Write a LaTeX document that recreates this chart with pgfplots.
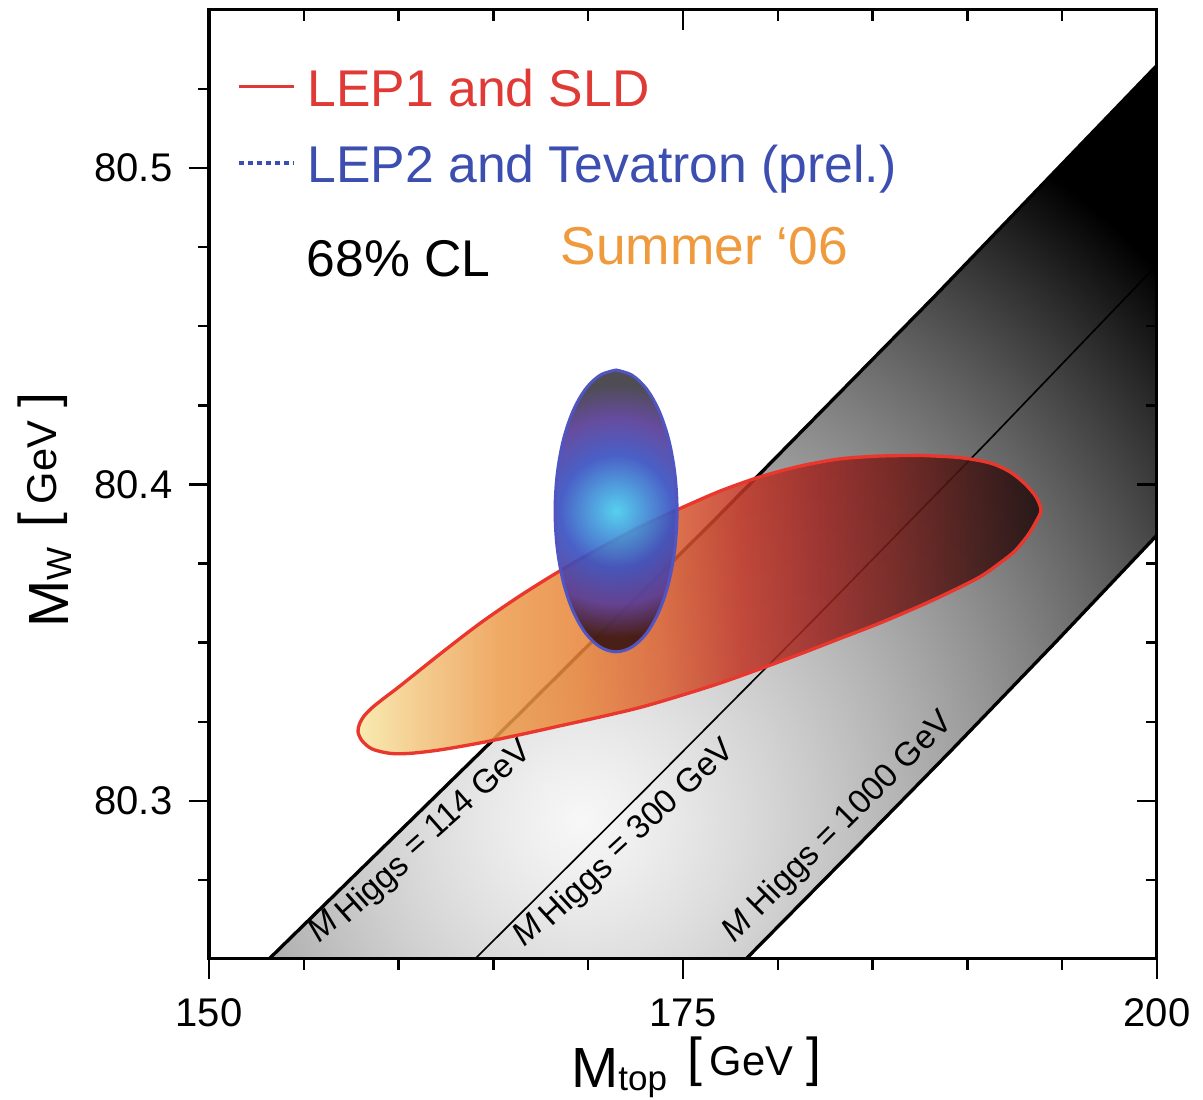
\documentclass[border=0pt]{standalone}
\usepackage{pgfplots}
\pgfplotsset{compat=1.18}
\usepackage{fontspec}
\setmainfont{Liberation Sans}

\definecolor{legred}{HTML}{E03A36}
\definecolor{legblue}{HTML}{3C4FB0}
\definecolor{legorange}{HTML}{EF9A3C}
\definecolor{ellred}{HTML}{EA372D}
\definecolor{ellblue}{HTML}{5055C2}
\definecolor{rA}{HTML}{F8E8A4}
\definecolor{rB}{HTML}{F2C47E}
\definecolor{rC}{HTML}{EC9C4C}
\definecolor{rD}{HTML}{E8843A}
\definecolor{rE}{HTML}{DC6232}
\definecolor{rF}{HTML}{C23626}
\definecolor{rG}{HTML}{9C2420}
\definecolor{rH}{HTML}{701C18}
\definecolor{rI}{HTML}{3E1412}
\definecolor{rJ}{HTML}{1E0C0C}

\pgfdeclarehorizontalshading{redell}{100bp}{color(0bp)=(rA); color(25bp)=(rA); color(29.5bp)=(rB); color(35.4bp)=(rC); color(41.3bp)=(rD); color(47.1bp)=(rE); color(53bp)=(rF); color(58.8bp)=(rG); color(64.7bp)=(rH); color(70.5bp)=(rI); color(75bp)=(rJ); color(100bp)=(rJ)}
\pgfdeclarefunctionalshading{bandshade}{\pgfpointorigin}{\pgfpoint{100bp}{100bp}}{}{
  32.73 sub dup mul exch 42.57 sub dup mul add sqrt
  dup dup mul -0.00026 mul exch -0.010 mul add 0.97 add
  dup 0 lt { pop 0 } if dup dup
}
\pgfdeclarefunctionalshading{blueell}{\pgfpointorigin}{\pgfpoint{100bp}{100bp}}{}{
  50 sub 25 div dup 0 lt { 1 } { 0 } ifelse 3 1 roll
  dup mul exch 50 sub 25 div 0.4326 mul dup mul add sqrt
  dup 0.40 lt
  { 0.40 div dup dup -0.05 mul 0.28 add 3 1 roll -0.48 mul 0.80 add exch -0.17 mul 0.93 add 4 -1 roll pop }
  { dup 0.66 lt
    { 0.40 sub 0.26 div dup dup 0.12 mul 0.23 add 3 1 roll -0.08 mul 0.32 add exch -0.17 mul 0.76 add 4 -1 roll pop }
    { 0.66 sub 0.24 div dup 1 gt { pop 1 } if
      dup 2 index -0.01 mul -0.10 add mul 0.35 add exch
      dup 3 index -0.15 mul -0.00 add mul 0.24 add exch
      3 index -0.20 mul -0.32 add mul 0.59 add
      4 -1 roll pop }
    ifelse }
  ifelse
}

\newcommand{\biglabel}[1]{{\fontsize{17}{17}\selectfont M}\raisebox{-0.9pt}{\fontsize{10.5}{10.5}\selectfont #1}\hspace{6pt}\raisebox{3.5pt}{{\fontsize{16}{16}\selectfont [}\hspace{2.4pt}{\fontsize{12.5}{12.5}\selectfont GeV}\hspace{4pt}{\fontsize{16}{16}\selectfont ]}}}

\begin{document}
\begin{tikzpicture}
\begin{axis}[
  name=main,
  scale only axis, width=284.4pt, height=284.7pt,
  xmin=150, xmax=200, ymin=80.25, ymax=80.55,
  xtick={150,175,200}, xticklabels={150,175,200},
  minor xtick={155,160,165,170,180,185,190,195},
  ytick={80.3,80.4,80.5}, yticklabels={80.3,80.4,80.5},
  minor ytick={80.275,80.325,80.35,80.375,80.425,80.45,80.475,80.525},
  xtick pos=left, ytick pos=left, tick align=outside,
  major tick length=6pt, minor tick length=3.3pt,
  every tick/.style={black, line width=0.7pt},
  axis line style={line width=0.9pt},
  tick label style={font=\fontsize{12}{12}\selectfont, /pgf/number format/assume math mode=true},
  xticklabel style={inner sep=0pt, yshift=-5.7pt},
  yticklabel style={inner sep=0pt, xshift=-4.8pt},
  xlabel={\biglabel{top}},
  ylabel={\biglabel{W}},
  x label style={at={(axis description cs:0.514,-0.135)}, anchor=base, inner sep=0pt},
  y label style={at={(axis description cs:-0.1487,0.473)}, anchor=base, inner sep=0pt, rotate=0},
]
% Higgs band
\addplot[draw=none, shade, shading=bandshade, forget plot] coordinates {
  (153.165,80.25) (164.873,80.3186) (176.582,80.3883) (188.291,80.4596) (200,80.5325)
  (200,80.3840) (194.580,80.3497) (189.161,80.3160) (183.742,80.2829) (178.323,80.25)
} -- cycle;
\addplot[black, line width=1pt, forget plot] coordinates {(153.165,80.25) (164.873,80.3186) (176.582,80.3883) (188.291,80.4596) (200,80.5325)};
\addplot[black, line width=0.5pt, forget plot] coordinates {(164.030,80.25) (173.022,80.3037) (182.015,80.3580) (191.007,80.4132) (200,80.4694)};
\addplot[black, line width=1pt, forget plot] coordinates {(178.323,80.25) (183.742,80.2829) (189.161,80.3160) (194.580,80.3497) (200,80.3840)};

\node[anchor=base west, inner sep=0pt, rotate=41.5, font=\fontsize{10}{12}\selectfont] at (axis cs:155.8,80.2548) {\textit{M}\,\raisebox{-1.3pt}{Higgs} = 114 GeV};
\node[anchor=base west, inner sep=0pt, rotate=42.6, font=\fontsize{10}{12}\selectfont] at (axis cs:166.6,80.2536) {\textit{M}\,\raisebox{-1.3pt}{Higgs} = 300 GeV};
\node[anchor=base west, inner sep=0pt, rotate=45, font=\fontsize{10}{12}\selectfont] at (axis cs:177.7,80.2548) {\textit{M} Higgs = 1000 GeV};

% LEP1 and SLD ellipse
\addplot[draw=ellred, line width=1pt, shade, shading=redell, fill opacity=0.86, draw opacity=1, smooth, tension=0.5, forget plot] coordinates {
  (187.500,80.4092) (189.610,80.4085) (191.192,80.4068) (192.247,80.4040) (193.038,80.4002)
  (193.618,80.3961) (193.882,80.3919) (193.618,80.3882) (193.197,80.3840) (192.511,80.3790)
  (191.720,80.3752) (190.665,80.3708) (189.083,80.3660) (187.500,80.3616) (185.391,80.3562)
  (183.281,80.3513) (181.171,80.3464) (179.061,80.3417) (176.952,80.3372) (174.842,80.3332)
  (172.732,80.3295) (170.623,80.3265) (168.513,80.3237) (166.403,80.3209) (164.293,80.3183)
  (162.184,80.3161) (160.601,80.3150) (159.547,80.3150) (158.597,80.3164) (158.070,80.3190)
  (157.859,80.3218) (157.938,80.3243) (158.175,80.3268) (158.597,80.3294) (159.177,80.3322)
  (160.074,80.3363) (162.184,80.3464)
  (164.293,80.3561) (166.403,80.3648) (168.513,80.3727) (170.623,80.3799) (172.732,80.3866)
  (174.842,80.3924) (176.952,80.3979) (179.061,80.4024) (181.171,80.4058) (183.281,80.4081)
  (185.391,80.4090) (187.500,80.4092)
} -- cycle;

% LEP2 and Tevatron ellipse
\addplot[draw=ellblue, line width=0.9pt, shade, shading=blueell, fill opacity=0.92, draw opacity=1, smooth, tension=0.55, forget plot] coordinates {
  (171.47,80.4362) (170.64,80.4346) (169.86,80.4302) (169.19,80.4231) (168.68,80.4139)
  (168.36,80.4031) (168.25,80.3916) (168.36,80.3801) (168.68,80.3693) (169.19,80.3601)
  (169.86,80.3530) (170.64,80.3486) (171.47,80.3471) (172.30,80.3486) (173.08,80.3530)
  (173.75,80.3601) (174.26,80.3693) (174.58,80.3801) (174.69,80.3916) (174.58,80.4031)
  (174.26,80.4139) (173.75,80.4231) (173.08,80.4302) (172.30,80.4346) (171.47,80.4362)
} -- cycle;

% legend
\draw[legred, line width=1pt] (axis cs:151.58,80.5259) -- (axis cs:154.48,80.5259);
\draw[legblue, line width=1pt, dash pattern=on 1.4pt off 1.3pt] (axis cs:151.58,80.5016) -- (axis cs:154.48,80.5016);
\node[anchor=base west, inner sep=0pt, text=legred, font=\fontsize{15.5}{18}\selectfont] at (axis cs:155.17,80.5196) {LEP1 and SLD};
\node[anchor=base west, inner sep=0pt, text=legblue, font=\fontsize{15.5}{18}\selectfont] at (axis cs:155.17,80.4956) {LEP2 and Tevatron (prel.)};
\node[anchor=base west, inner sep=0pt, text=black, font=\fontsize{15.5}{18}\selectfont] at (axis cs:155.12,80.4656) {68\% CL};
\node[anchor=base west, inner sep=0pt, text=legorange, font=\fontsize{16}{18}\selectfont] at (axis cs:168.51,80.4694) {Summer ‘06};
\end{axis}
\begin{axis}[
  scale only axis, width=284.4pt, height=284.7pt,
  xmin=150, xmax=200, ymin=80.25, ymax=80.55,
  xtick={150,175,200}, xticklabels={},
  minor xtick={155,160,165,170,180,185,190,195},
  ytick={80.3,80.4,80.5}, yticklabels={},
  minor ytick={80.275,80.325,80.35,80.375,80.425,80.45,80.475,80.525},
  xtick pos=right, ytick pos=right, tick align=inside,
  major tick length=6pt, minor tick length=3.3pt,
  every tick/.style={black, line width=0.7pt},
  axis line style={line width=0.9pt},
]
\end{axis}
\pgfresetboundingbox
\path[use as bounding box] ([shift={(-62.7pt,-42.3pt)}]main.south west) rectangle ([shift={(13.8pt,3pt)}]main.north east);
\end{tikzpicture}
\end{document}
